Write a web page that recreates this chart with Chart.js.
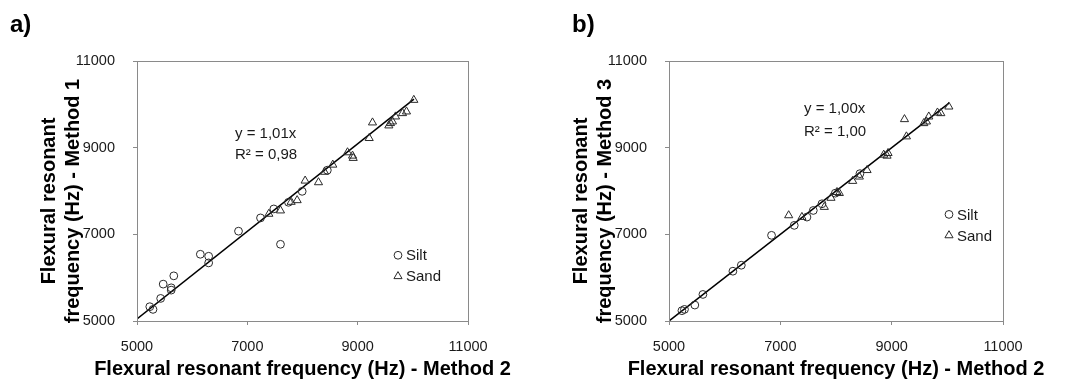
<!DOCTYPE html>
<html>
<head>
<meta charset="utf-8">
<script src="https://cdn.jsdelivr.net/npm/chart.js@4.4.1/dist/chart.umd.min.js"></script>
<style>
  html, body { margin: 0; padding: 0; background: #fff; }
  #wrap { position: relative; width: 1065px; height: 381px; }
  canvas { position: absolute; top: 0; }
  #ca { left: 0; }
  #cb { left: 532px; }
</style>
</head>
<body>
<div id="wrap">
  <canvas id="ca" width="532" height="381"></canvas>
  <canvas id="cb" width="533" height="381"></canvas>
</div>
<script>
// axes communs aux deux panneaux
const tickVals = [5000, 7000, 9000, 11000];
const xTitle = 'Flexural resonant frequency (Hz) - Method 2';

// a) méthode 1 vs méthode 2
const siltAX = [5232, 5290, 5429, 5475, 5620, 5620, 5667, 6148, 6299, 6299, 6840, 7239, 7480, 7601, 7746, 7994, 8450];
const siltAY = [5330, 5268, 5521, 5851, 5766, 5713, 6042, 6540, 6494, 6341, 7073, 7379, 7586, 6770, 7739, 7992, 8480];
const sandAX = [7390, 7601, 7794, 7903, 8048, 8290, 8400, 8549, 8816, 8907, 8919, 9209, 9269, 9565, 9595, 9631, 9686, 9813, 9885, 10018];
const sandAY = [7471, 7548, 7747, 7785, 8237, 8199, 8440, 8605, 8890, 8813, 8760, 9219, 9579, 9510, 9564, 9602, 9717, 9794, 9832, 10100];
const trendAX = [5000, 10020];
const trendAY = [5050, 10120];
const eqA = ['y = 1,01x', 'R\u00b2 = 0,98'];
const yTitleA = ['Flexural resonant', 'frequency (Hz) - Method 1'];

// b) méthode 3 vs méthode 2
const siltBX = [5232, 5278, 5464, 5609, 6148, 6299, 6842, 7250, 7478, 7592, 7748, 7988, 8430];
const siltBY = [5238, 5268, 5368, 5613, 6149, 6287, 6977, 7207, 7398, 7551, 7705, 7950, 8400];
const sandBX = [7150, 7388, 7790, 7910, 8018, 8060, 8300, 8420, 8558, 8857, 8917, 8935, 9230, 9265, 9577, 9625, 9667, 9823, 9883, 10027];
const sandBY = [7437, 7398, 7630, 7840, 7973, 7950, 8230, 8330, 8480, 8835, 8812, 8874, 9655, 9257, 9563, 9601, 9716, 9808, 9793, 9946];
const trendBX = [5000, 10030];
const trendBY = [5000, 10030];
const eqB = ['y = 1,00x', 'R\u00b2 = 1,00'];
const yTitleB = ['Flexural resonant', 'frequency (Hz) - Method 3'];

const C = { ink: '#1a1a1a', axis: '#8a8a8a', mark: '#2a2a2a' };
const FONT = "'Liberation Sans', Arial, sans-serif";
Chart.defaults.font.family = FONT;
Chart.defaults.color = C.ink;

const pts = (xs, ys) => xs.map((x, i) => ({ x, y: ys[i] }));

// cadre, titres, équation et légende dessinés sur le canvas
const deco = {
  id: 'deco',
  afterDraw(ch, args, o) {
    const { ctx, chartArea: a, scales: { x, y } } = ch;
    ctx.save();
    ctx.strokeStyle = C.axis; ctx.lineWidth = 1;
    ctx.strokeRect(Math.round(a.left) + 0.5, Math.round(a.top) + 0.5, Math.round(a.right - a.left), Math.round(a.bottom - a.top));

    ctx.fillStyle = '#000';
    ctx.font = 'bold 24px ' + FONT;
    ctx.textBaseline = 'alphabetic'; ctx.textAlign = 'left';
    ctx.fillText(o.label, o.labelX, 32);

    ctx.font = 'bold 20px ' + FONT;
    ctx.textAlign = 'center';
    ctx.fillText(xTitle, (a.left + a.right) / 2, 375);
    ctx.save();
    ctx.translate(0, 201); ctx.rotate(-Math.PI / 2);
    ctx.fillText(o.yTitle[0], 0, 55);
    ctx.fillText(o.yTitle[1], 0, 79);
    ctx.restore();

    ctx.font = '15px ' + FONT;
    ctx.fillStyle = C.ink; ctx.textAlign = 'left';
    const ex = x.getPixelForValue(o.eqAt[0]);
    ctx.fillText(o.eq[0], ex, y.getPixelForValue(o.eqAt[1]));
    ctx.fillText(o.eq[1], ex, y.getPixelForValue(o.eqAt[2]));

    const lx = x.getPixelForValue(o.legAt[0]);
    ch.data.datasets.filter((d) => d.label).forEach((d, i) => {
      const ly = y.getPixelForValue(o.legAt[1]) + i * 21;
      ctx.strokeStyle = C.mark; ctx.fillStyle = 'rgba(0,0,0,0)';
      Chart.helpers.drawPoint(ctx, { pointStyle: d.pointStyle, radius: d.pointRadius, rotation: 0, borderWidth: 1 }, lx, ly);
      ctx.fillStyle = C.ink; ctx.textBaseline = 'middle';
      ctx.fillText(d.label, lx + 8, ly + 1);
    });
    ctx.restore();
  },
};

function axis(isY) {
  return {
    type: 'linear', min: 5000, max: 11000,
    afterBuildTicks: (s) => { s.ticks = tickVals.map((v) => ({ value: v })); },
    afterFit: (s) => { if (isY) s.width = 137; else s.height = 60; },
    grid: { display: true, drawOnChartArea: false, drawTicks: true, tickLength: 4, color: C.axis },
    border: { display: true, color: C.axis },
    ticks: { color: C.ink, font: { size: 14.5 }, padding: isY ? 18 : 13, callback: (v) => String(v) },
  };
}

function panel(canvas, d, deco_opts, rightPad) {
  return new Chart(canvas.getContext('2d'), {
    type: 'scatter',
    data: {
      datasets: [
        { label: 'Silt', data: pts(d.sx, d.sy), pointStyle: 'circle', pointRadius: 3.9, borderWidth: 1, borderColor: C.mark, backgroundColor: 'rgba(0,0,0,0)', order: 1 },
        { label: 'Sand', data: pts(d.tx, d.ty), pointStyle: 'triangle', pointRadius: 4.7, borderWidth: 1, borderColor: C.mark, backgroundColor: 'rgba(0,0,0,0)', order: 2 },
        { type: 'line', data: pts(d.lx, d.ly), showLine: true, borderColor: '#000', borderWidth: 1.5, pointRadius: 0, fill: false, order: 3 },
      ],
    },
    options: {
      responsive: false, animation: false,
      layout: { padding: { top: 61, right: rightPad, left: 0, bottom: 0 } },
      plugins: { legend: { display: false }, tooltip: { enabled: false }, deco: deco_opts },
      scales: { x: axis(false), y: axis(true) },
    },
    plugins: [deco],
  });
}

panel(document.getElementById('ca'),
  { sx: siltAX, sy: siltAY, tx: sandAX, ty: sandAY, lx: trendAX, ly: trendAY },
  { label: 'a)', labelX: 10, yTitle: yTitleA, eq: eqA, eqAt: [6776, 9230, 8747], legAt: [9731, 6517] }, 64);

panel(document.getElementById('cb'),
  { sx: siltBX, sy: siltBY, tx: sandBX, ty: sandBY, lx: trendBX, ly: trendBY },
  { label: 'b)', labelX: 40, yTitle: yTitleB, eq: eqB, eqAt: [7425, 9805, 9276], legAt: [10030, 7460] }, 62);
</script>
</body>
</html>
